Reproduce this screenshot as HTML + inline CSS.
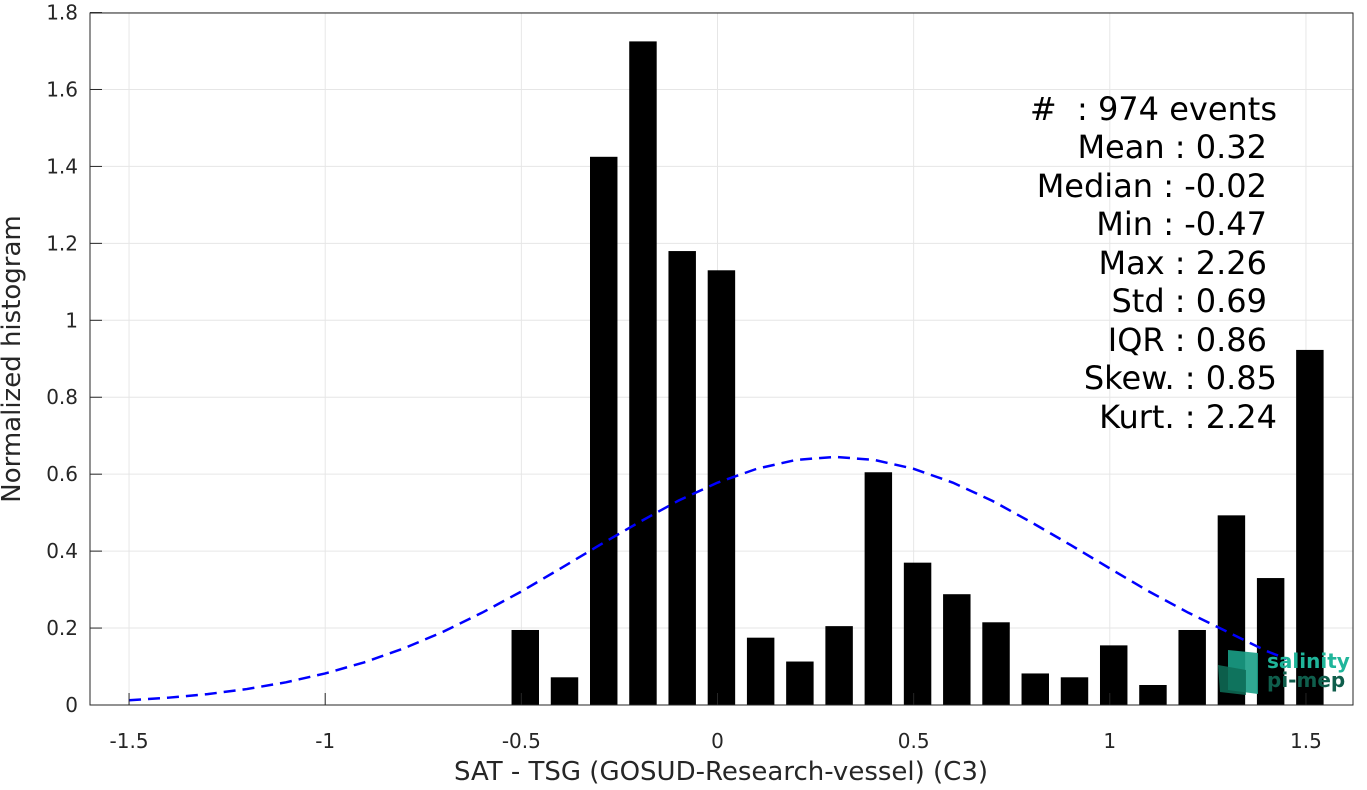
<!DOCTYPE html>
<html><head><meta charset="utf-8"><style>
body{margin:0;background:#fff;}
svg text{font-family:"DejaVu Sans","Liberation Sans",sans-serif;}
</style></head><body>
<svg id="c" width="1367" height="785" xmlns="http://www.w3.org/2000/svg">
<g id="grid"></g>
<g id="bars"></g>
<path id="fit" fill="none" stroke="#0000ff" stroke-width="2.5" stroke-dasharray="12,7"/>
<rect x="90" y="13" width="1263" height="692" fill="none" stroke="#262626" stroke-width="1"/>
<g id="ticks"></g>
<text x="721" y="780" font-size="26" text-anchor="middle" fill="#262626">SAT - TSG (GOSUD-Research-vessel) (C3)</text>
<text transform="translate(20,359) rotate(-90)" font-size="26" text-anchor="middle" fill="#262626">Normalized histogram</text>
<g font-size="32" fill="#000" text-anchor="end">
<text x="1277" y="120">#&#160;&#160;: 974 events</text>
<text x="1267" y="158">Mean : 0.32</text>
<text x="1267" y="197">Median : -0.02</text>
<text x="1267" y="235">Min : -0.47</text>
<text x="1267" y="274">Max : 2.26</text>
<text x="1267" y="312">Std : 0.69</text>
<text x="1267" y="351">IQR : 0.86</text>
<text x="1277" y="389">Skew. : 0.85</text>
<text x="1277" y="428">Kurt. : 2.24</text>
</g>
<g>
<polygon points="1228,650 1258,653 1258,694 1228,690" fill="#1a9f86" opacity="0.9"/>
<polygon points="1218,665 1246,670 1246,695 1220,692" fill="#0e6e58" opacity="0.85"/>
<text x="1267" y="668" font-size="20" font-weight="bold" fill="#1fb59a">salinity</text>
<text x="1267" y="687" font-size="20" font-weight="bold" fill="#0f5e4c">pi-mep</text>
</g>
</svg>
<script>
const binCenters=[-0.49,-0.39,-0.29,-0.19,-0.09,0.01,0.11,0.21,0.31,0.41,0.51,0.61,0.71,0.81,0.91,1.01,1.11,1.21,1.31,1.41,1.51];
const binValues=[0.195,0.072,1.425,1.725,1.18,1.13,0.175,0.113,0.205,0.605,0.37,0.288,0.215,0.082,0.072,0.155,0.052,0.195,0.493,0.33,0.923];
const fitX=[-1.5,-1.4,-1.3,-1.2,-1.1,-1.0,-0.9,-0.8,-0.7,-0.6,-0.5,-0.4,-0.3,-0.2,-0.1,0,0.1,0.2,0.3,0.4,0.5,0.6,0.7,0.8,0.9,1.0,1.1,1.2,1.3,1.4,1.45];
const fitY=[0.0124,0.019,0.0283,0.0414,0.059,0.082,0.111,0.147,0.19,0.24,0.295,0.355,0.416,0.475,0.531,0.578,0.614,0.637,0.645,0.637,0.614,0.578,0.531,0.475,0.416,0.355,0.295,0.24,0.19,0.14,0.12];
const xTicks=[-1.5,-1,-0.5,0,0.5,1,1.5];
const xTickLabels=["-1.5","-1","-0.5","0","0.5","1","1.5"];
const yTicks=[0,0.2,0.4,0.6,0.8,1,1.2,1.4,1.6,1.8];
const yTickLabels=["0","0.2","0.4","0.6","0.8","1","1.2","1.4","1.6","1.8"];
const NS="http://www.w3.org/2000/svg";
const X=v=>717.5+v*392.3, Y=v=>705-v*384.7;
function mk(t,a,p){const e=document.createElementNS(NS,t);for(const k in a)e.setAttribute(k,a[k]);p.appendChild(e);return e;}
const g=document.getElementById('grid'),tk=document.getElementById('ticks'),b=document.getElementById('bars');
xTicks.forEach((v,i)=>{
 const l=mk('line',{x1:X(v),x2:X(v),y1:13,y2:705,stroke:'#e6e6e6'},g);
 
 
 const t=mk('line',{x1:X(v),x2:X(v),y1:705,y2:693,stroke:'#262626'},tk);
 
 
 const s=mk('text',{x:X(v),y:748,'font-size':20,'text-anchor':'middle',fill:'#262626'},tk);
 s.textContent=xTickLabels[i];
 
 
});
yTicks.forEach((v,i)=>{
 const l=mk('line',{x1:90,x2:1353,y1:Y(v),y2:Y(v),stroke:'#e6e6e6'},g);
 
 
 const t=mk('line',{x1:90,x2:102,y1:Y(v),y2:Y(v),stroke:'#262626'},tk);
 
 
 const s=mk('text',{x:78,y:Y(v)+7,'font-size':20,'text-anchor':'end',fill:'#262626'},tk);
 s.textContent=yTickLabels[i];
 
 
});
binCenters.forEach((c,i)=>{
 const w=0.07*392.3;
 const r=mk('rect',{x:X(c)-w/2,y:Y(binValues[i]),width:w,height:705-Y(binValues[i]),fill:'#000'},b);
 
 
});
document.getElementById('fit').setAttribute('d',fitX.map((x,i)=>(i?'L':'M')+X(x)+','+Y(fitY[i])).join(' '));
</script>
</body></html>
